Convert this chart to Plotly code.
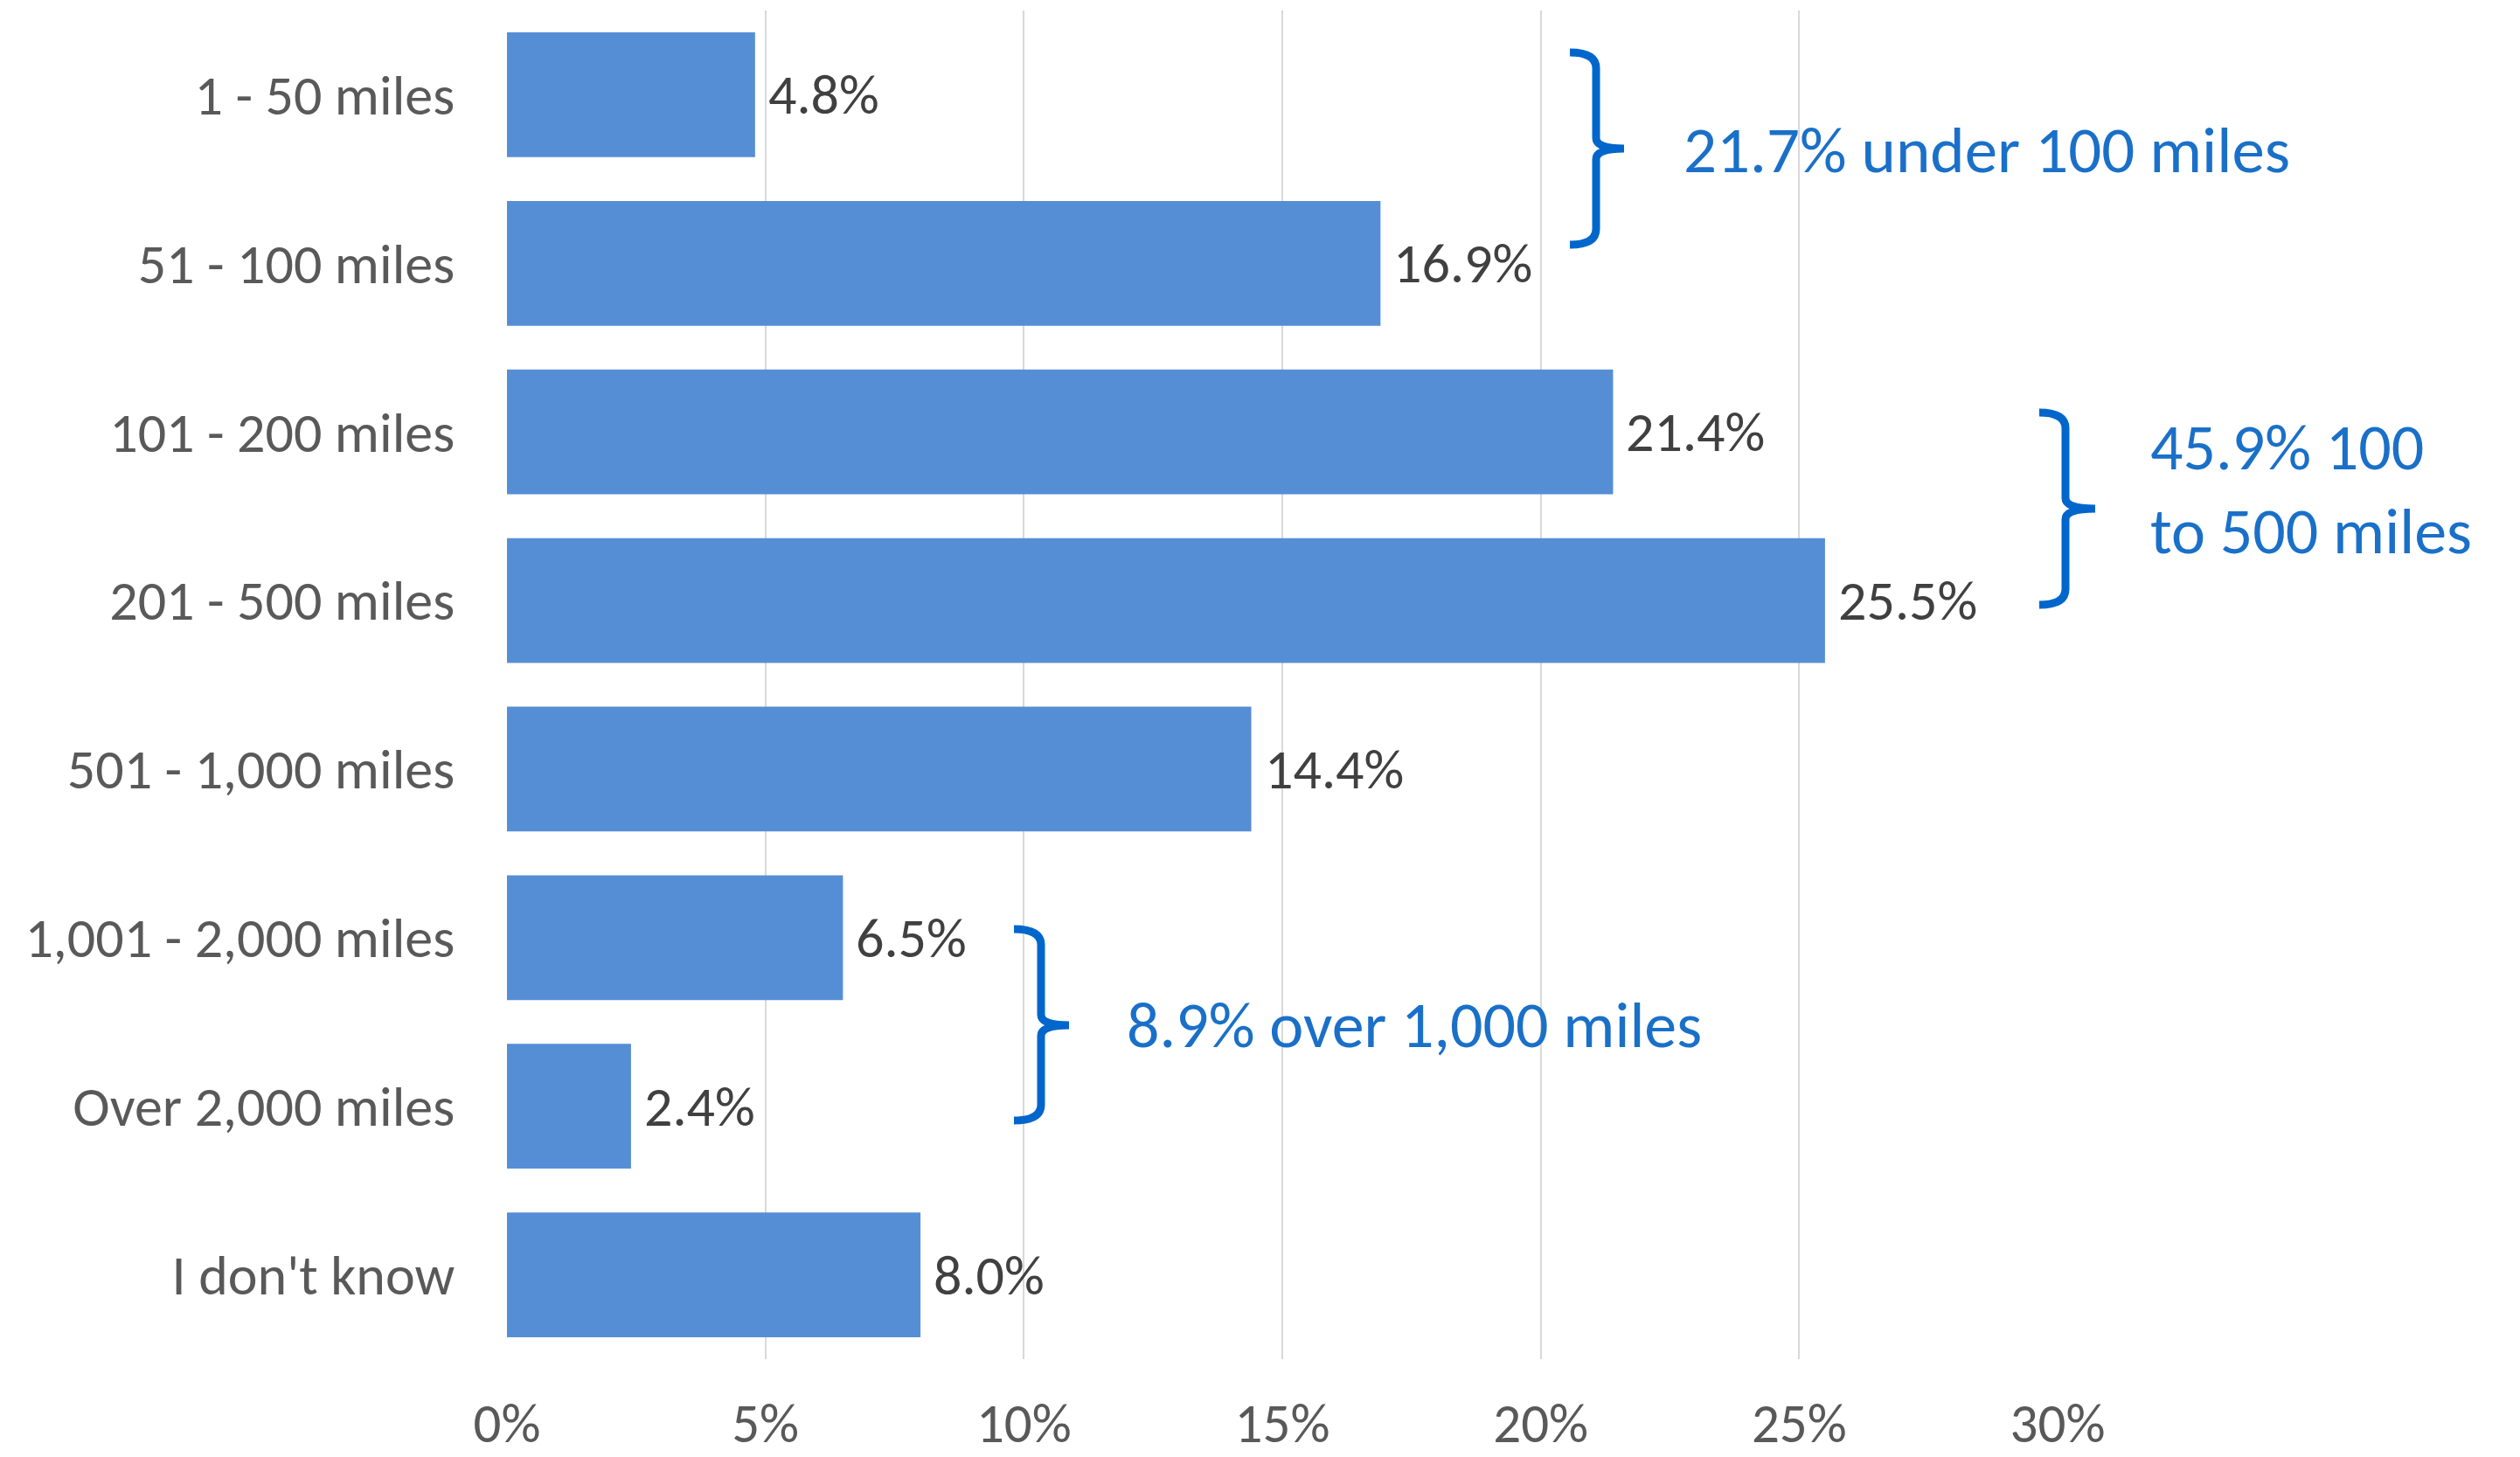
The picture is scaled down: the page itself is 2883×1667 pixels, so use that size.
import plotly.graph_objects as go

categories = ["1 - 50 miles", "51 - 100 miles", "101 - 200 miles", "201 - 500 miles",
              "501 - 1,000 miles", "1,001 - 2,000 miles", "Over 2,000 miles", "I don't know"]
values = [0.048, 0.169, 0.214, 0.255, 0.144, 0.065, 0.024, 0.080]
x_ticks = [0, 0.05, 0.10, 0.15, 0.20, 0.25, 0.30]
x_tick_labels = ["0%", "5%", "10%", "15%", "20%", "25%", "30%"]
group_notes = ["21.7% under 100 miles", "45.9% 100<br>to 500 miles", "8.9% over 1,000 miles"]

W, H = 2883, 1667
L, R, T, B = 580, 2354, 12, 1555
FONT = "Carlito, Calibri, Lato, sans-serif"
BAR = "#558ed5"
BLUE_LINE = "#0066cc"
BLUE_TEXT = "#1a70c8"


def px(X):
    return (X - L) / (R - L)


def py(Y):
    return (B - Y) / (B - T)


def brace(tip, line, point, top, mid, bot):
    pts = [
        f"M {px(tip)},{py(top)}",
        f"Q {px(line)},{py(top)} {px(line)},{py(top + 18)}",
        f"L {px(line)},{py(mid - 12)}",
        f"Q {px(line)},{py(mid)} {px(point)},{py(mid)}",
        f"Q {px(line)},{py(mid)} {px(line)},{py(mid + 12)}",
        f"L {px(line)},{py(bot - 18)}",
        f"Q {px(line)},{py(bot)} {px(tip)},{py(bot)}",
    ]
    return dict(type="path", xref="paper", yref="paper", path=" ".join(pts),
                line=dict(color=BLUE_LINE, width=9), layer="above")


fig = go.Figure(go.Bar(
    x=values, y=categories, orientation="h",
    marker=dict(color=BAR, line=dict(width=0)),
    hoverinfo="skip",
))

annotations = []
for c, v in zip(categories, values):
    annotations.append(dict(x=v, y=c, xref="x", yref="y", text=f"{v*100:.1f}%",
                            showarrow=False, xanchor="left", yanchor="middle", xshift=13,
                            font=dict(family=FONT, size=64, color="#404040")))

note_specs = [(1924, 171, 75), (2458, 560, 74), (1287, 1173, 74)]
for txt, (X, Y, s) in zip(group_notes, note_specs):
    annotations.append(dict(x=px(X), y=py(Y), xref="paper", yref="paper", text=txt,
                            showarrow=False, xanchor="left", yanchor="middle", align="left",
                            font=dict(family=FONT, size=s, color=BLUE_TEXT)))

shapes = [
    brace(1796, 1826, 1858, 60, 170, 280),
    brace(2333, 2363, 2397, 472, 582, 692),
    brace(1160, 1191, 1223, 1063, 1173, 1282),
]

fig.update_layout(
    width=W, height=H,
    margin=dict(l=L, r=W - R, t=T, b=H - B, pad=0),
    paper_bgcolor="white", plot_bgcolor="white",
    bargap=0.26,
    showlegend=False,
    annotations=annotations,
    shapes=shapes,
    font=dict(family=FONT, color="#595959"),
    xaxis=dict(range=[0, 0.30], tickvals=x_ticks, ticktext=x_tick_labels,
               showgrid=True, gridcolor="#d9d9d9", gridwidth=2, zeroline=False,
               showline=False, ticks="outside", ticklen=18, tickcolor="rgba(0,0,0,0)",
               tickfont=dict(family=FONT, size=63, color="#595959"), fixedrange=True,
               automargin=False),
    yaxis=dict(categoryorder="array", categoryarray=categories, autorange="reversed",
               showgrid=False, zeroline=False, showline=False,
               ticks="outside", ticklen=46, tickcolor="rgba(0,0,0,0)",
               tickfont=dict(family=FONT, size=64, color="#595959"), fixedrange=True,
               automargin=False),
)

fig.write_html(
    "out.html",
    config={"displayModeBar": False, "staticPlot": True},
    post_script="document.body.style.margin='0';document.body.style.overflow='hidden';",
)
